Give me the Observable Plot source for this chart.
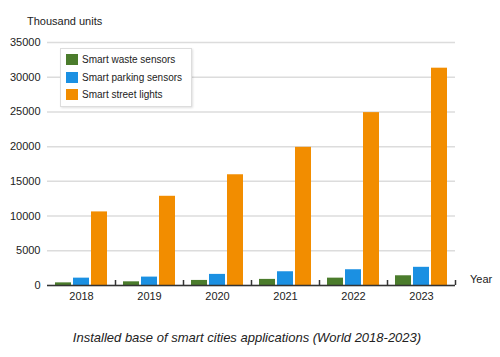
<!DOCTYPE html>
<html><head><meta charset="utf-8">
<script src="https://cdn.jsdelivr.net/npm/d3@7"></script>
<script src="https://cdn.jsdelivr.net/npm/@observablehq/plot@0.6"></script>
<style>
body{margin:0;background:#fff;font-family:"Liberation Sans",Arial,sans-serif;}
#wrap{position:relative;width:500px;height:357px;overflow:hidden;}
.lab{position:absolute;font-size:11px;color:#222;white-space:nowrap;}
#legend{position:absolute;left:60px;top:48px;width:130px;height:57px;border:1px solid #ddd;background:#fff;box-shadow:1px 1px 2px rgba(0,0,0,0.12);}
.row{position:absolute;left:5px;font-size:10px;color:#222;white-space:nowrap;height:12px;line-height:12px;}
.sw{display:inline-block;width:12px;height:11px;vertical-align:top;margin-right:4px;}
#caption{position:absolute;left:0;width:494px;text-align:center;top:330px;font-size:13px;font-style:italic;color:#222;}
</style></head>
<body><div id="wrap"></div>
<script>
const years = ["2018", "2019", "2020", "2021", "2022", "2023"];
const series = ["Smart waste sensors", "Smart parking sensors", "Smart street lights"];
const waste = [380, 530, 730, 880, 1060, 1400];
const parking = [1060, 1210, 1600, 1980, 2270, 2620];
const lights = [10600, 12850, 15950, 19900, 24900, 31300];
const colors = ["#4b7c2c", "#1b90e2", "#f28d00"];
const yTicks = [0, 5000, 10000, 15000, 20000, 25000, 30000, 35000];

const table = years.flatMap((yr, i) => [
  {year: yr, series: series[0], value: waste[i]},
  {year: yr, series: series[1], value: parking[i]},
  {year: yr, series: series[2], value: lights[i]}
]);

const W = 500, ML = 47, MR = 45;
const groupW = (W - ML - MR) / years.length;

const chart = Plot.plot({
  width: W, height: 310,
  marginLeft: ML, marginRight: MR, marginTop: 42, marginBottom: 25,
  style: {fontFamily: '"Liberation Sans", Arial, sans-serif', background: "transparent"},
  fx: {domain: years, padding: 0, label: null},
  x: {domain: series, paddingInner: 0.13, paddingOuter: 0.41, axis: null},
  y: {domain: [0, 35000], label: null},
  color: {domain: series, range: colors},
  marks: [
    Plot.gridY(yTicks, {stroke: "#dcdcdc", strokeOpacity: 1, strokeWidth: 1.5}),
    Plot.axisY(yTicks, {tickSize: 0, tickPadding: 7, tickFormat: d => String(d), fontSize: 11, fill: "#222", label: null}),
    Plot.barY(table, {fx: "year", x: "series", y: "value", fill: "series"}),
    Plot.ruleY([0], {stroke: "#333", strokeWidth: 1.5}),
    Plot.ruleX([years[0]], {fx: d => d, y1: 0, y2: 35000, dx: -groupW / 2, stroke: "#333", strokeWidth: 1.5}),
    Plot.axisFx({anchor: "bottom", tickSize: 0, tickPadding: 7, fontSize: 11, fill: "#222", label: null}),
    Plot.axisFx({anchor: "bottom", tickSize: -5, stroke: "#333", strokeWidth: 1.5, dx: groupW / 2, tickFormat: () => "", label: null})
  ]
});

const wrap = document.getElementById("wrap");
wrap.appendChild(chart);

const t1 = document.createElement("div");
t1.className = "lab"; t1.style.left = "27px"; t1.style.top = "15px"; t1.textContent = "Thousand units";
wrap.appendChild(t1);
const t2 = document.createElement("div");
t2.className = "lab"; t2.style.left = "470px"; t2.style.top = "273px"; t2.textContent = "Year";
wrap.appendChild(t2);

const lg = document.createElement("div");
lg.id = "legend";
series.forEach((s, i) => {
  const r = document.createElement("div");
  r.className = "row"; r.style.top = (5 + i * 17.5) + "px";
  const sw = document.createElement("span");
  sw.className = "sw"; sw.style.background = colors[i];
  r.appendChild(sw);
  r.appendChild(document.createTextNode(s));
  lg.appendChild(r);
});
wrap.appendChild(lg);

const cap = document.createElement("div");
cap.id = "caption";
cap.textContent = "Installed base of smart cities applications (World 2018-2023)";
wrap.appendChild(cap);
</script></body></html>
